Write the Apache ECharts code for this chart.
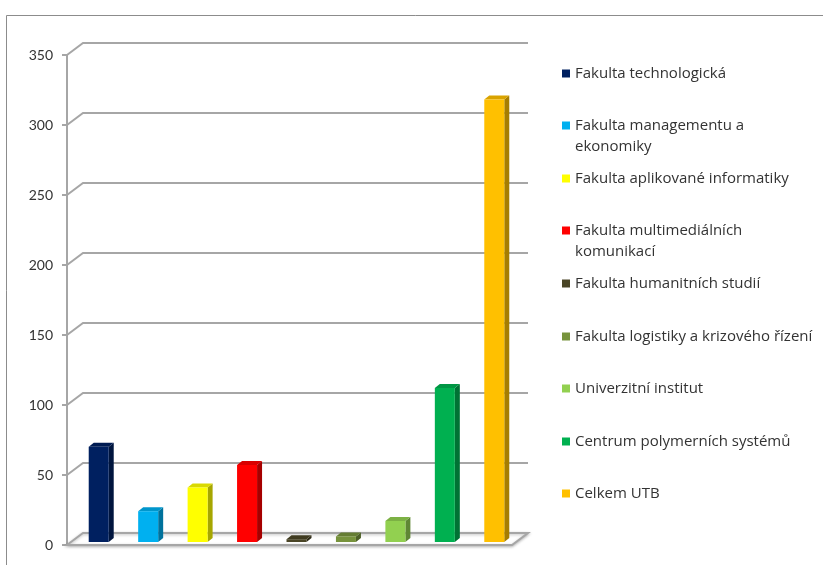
<!DOCTYPE html>
<html>
<head>
<meta charset="utf-8">
<script src="https://cdn.jsdelivr.net/npm/echarts@6/dist/echarts.min.js"></script>
<style>
  html, body { margin: 0; padding: 0; background: #fff; }
  #chart { width: 823px; height: 565px; }
</style>
</head>
<body>
<div id="chart"></div>
<script>
const categories = [
  'Fakulta technologická',
  'Fakulta managementu a\nekonomiky',
  'Fakulta aplikované informatiky',
  'Fakulta multimediálních\nkomunikací',
  'Fakulta humanitních studií',
  'Fakulta logistiky a krizového řízení',
  'Univerzitní institut',
  'Centrum polymerních systémů',
  'Celkem UTB'
];
const values = [68, 22, 39, 55, 2, 4, 15, 110, 316];
const colors = ['#002060', '#00b0f0', '#ffff00', '#ff0000', '#4a4526', '#77933c', '#92d050', '#00b050', '#ffc000'];
const yTicks = [0, 50, 100, 150, 200, 250, 300, 350];

// 3d look
const BX = 16, BY = 12;      // depth of the floor / back wall
const DX = 7, DY = -3;       // bars sit a bit behind the front plane
const BW = 20, SD = 5, SH = 4;
const frameColor = '#a6a6a6';

function shade(hex, k) {
  const n = parseInt(hex.slice(1), 16);
  const r = Math.round(((n >> 16) & 255) * (1 - k));
  const g = Math.round(((n >> 8) & 255) * (1 - k));
  const b = Math.round((n & 255) * (1 - k));
  return 'rgb(' + r + ',' + g + ',' + b + ')';
}

const myChart = echarts.init(document.getElementById('chart'));

const frameSeries = {
  type: 'custom',
  silent: true,
  z: 1,
  data: yTicks.map(v => [0, v]),
  encode: { x: 0, y: 1 },
  renderItem: function (params, api) {
    const cs = params.coordSys;
    const y = api.coord([0, api.value(1)])[1];
    const l = cs.x, r = cs.x + cs.width;
    if (api.value(1) === 0) {
      return {
        type: 'polygon',
        shape: { points: [[l, y], [l + BX, y - BY], [r + BX, y - BY], [r, y]] },
        style: { fill: '#fff', stroke: frameColor, lineWidth: 2, shadowBlur: 3, shadowColor: 'rgba(0,0,0,0.25)', shadowOffsetY: 1 }
      };
    }
    return {
      type: 'polyline',
      shape: { points: [[l, y], [l + BX, y - BY], [r + BX, y - BY]] },
      style: { fill: null, stroke: frameColor, lineWidth: 2 }
    };
  }
};

const barSeries = categories.map((name, i) => ({
  name: name,
  type: 'custom',
  z: 2,
  itemStyle: { color: colors[i] },
  data: [[i, values[i]]],
  encode: { x: 0, y: 1 },
  renderItem: function (params, api) {
    const top = api.coord([api.value(0), api.value(1)]);
    const base = api.coord([api.value(0), 0]);
    const x0 = top[0] + DX - BW / 2, x1 = x0 + BW;
    const yt = top[1] + DY, yb = base[1] + DY;
    return {
      type: 'group',
      children: [
        { type: 'polygon', shape: { points: [[x1, yb], [x1, yt], [x1 + SD, yt - SH], [x1 + SD, yb - SH]] }, style: { fill: shade(colors[i], 0.35) } },
        { type: 'polygon', shape: { points: [[x0, yt], [x0 + SD, yt - SH], [x1 + SD, yt - SH], [x1, yt]] }, style: { fill: shade(colors[i], 0.15) } },
        { type: 'rect', shape: { x: x0, y: yt, width: BW, height: yb - yt }, style: { fill: colors[i] } }
      ]
    };
  }
}));

// one legend per item so the spacing stays even; two-line names get a blank
// first line so that their first line sits next to the marker
const LH = 21;
const legends = categories.map((name, i) => {
  const two = name.indexOf('\n') >= 0;
  return {
    data: [name],
    left: 562,
    top: Math.round(73 + i * 52.6 - (two ? 1.5 * LH : 0.5 * LH)),
    padding: 0,
    icon: 'rect',
    itemWidth: 8,
    itemHeight: 8,
    selectedMode: false,
    formatter: n => (two ? '\n' + n : n),
    textStyle: {
      fontFamily: 'Open Sans',
      fontSize: 15,
      color: '#333',
      lineHeight: LH
    }
  };
});

const options = {
  animation: false,
  backgroundColor: '#fff',
  graphic: [{
    type: 'rect',
    shape: { x: 6.5, y: 15.5, width: 900, height: 700 },
    style: { fill: null, stroke: '#8c8c8c', lineWidth: 1 },
    silent: true
  }],
  legend: legends,
  grid: { left: 67, right: 311, top: 55, bottom: 20 },
  xAxis: {
    type: 'category',
    data: categories,
    axisLine: { show: false },
    axisTick: { show: false },
    axisLabel: { show: false }
  },
  yAxis: {
    type: 'value',
    min: 0,
    max: 350,
    interval: 50,
    axisLine: { show: true, lineStyle: { color: frameColor, width: 2 } },
    axisTick: { show: true, length: 5, lineStyle: { color: frameColor, width: 2 } },
    axisLabel: { margin: 14, color: '#333', fontFamily: 'Lato', fontSize: 14 },
    splitLine: { show: false }
  },
  series: [frameSeries].concat(barSeries)
};

myChart.setOption(options);
</script>
</body>
</html>
